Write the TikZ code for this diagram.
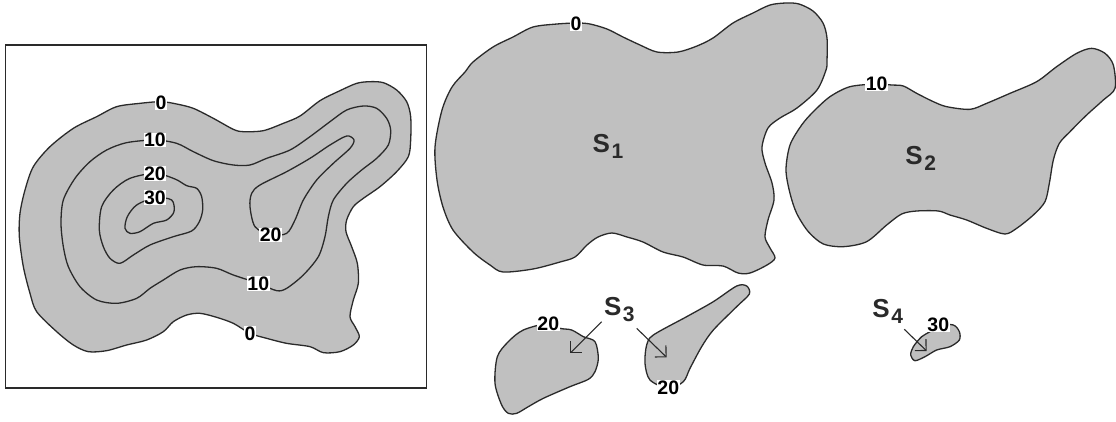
\documentclass[tikz,border=0pt]{standalone}
\usepackage{fontspec}
\setmainfont{Liberation Sans}
\usetikzlibrary{arrows.meta}
\tikzset{
  region/.style={fill=regiongray,draw=lineink,line width=1.3pt,line join=round},
  contour/.style={draw=lineink,line width=1.3pt,line join=round},
  lvl/.style={fill=white,inner sep=0.4pt,font=\fontsize{19.5}{19.5}\selectfont\bfseries,text=black},
  setname/.style={inner sep=0pt,font=\fontsize{26}{26}\selectfont\bfseries,text=lineink},
  pointer/.style={draw=lineink,line width=1.1pt,-{Straight Barb[length=8pt,width=16pt,line width=1.1pt]}},
  zoomed/.style={x=0.33333pt,y=-0.33333pt},
}
\definecolor{regiongray}{HTML}{C0C0C0}
\definecolor{lineink}{HTML}{2A2A2A}
\newcommand{\setlabel}[2]{S\kern1.5pt\raisebox{-6pt}{\fontsize{21}{21}\selectfont\bfseries #2}}
\begin{document}
\begin{tikzpicture}[x=1pt,y=-1pt]
\useasboundingbox (0,0) rectangle (1116,421);
\fill[white] (0,0) rectangle (1116,421);
\node[draw=lineink,line width=1.7pt,minimum width=421pt,minimum height=343pt,inner sep=0pt,anchor=north west] (panel) at (4.5,44) {};
% left panel: contour map
\begin{scope}[shift={(0pt,-30pt)},zoomed]
\draw[region] plot[smooth cycle,tension=0.5] coordinates {(483,215)(530,222)(580,235)(640,265)(700,298)(730,305)(790,302)(850,280)(900,258)(960,212)(1020,182)(1070,160)(1110,155)(1150,158)(1190,180)(1220,215)(1232,260)(1232,330)(1225,380)(1190,425)(1140,470)(1090,505)(1060,530)(1040,570)(1038,605)(1055,650)(1072,700)(1075,760)(1060,810)(1050,860)(1065,890)(1078,920)(1060,945)(1020,965)(970,968)(930,950)(860,940)(800,925)(750,910)(700,880)(650,862)(600,850)(560,855)(520,875)(490,905)(440,930)(380,945)(320,962)(265,965)(220,945)(170,905)(110,845)(90,790)(70,710)(58,620)(60,550)(75,480)(100,410)(150,350)(220,295)(290,260)(350,230)(420,220)};
\draw[contour] plot[smooth cycle,tension=0.5] coordinates {(465,330)(530,340)(580,365)(640,392)(700,405)(750,405)(800,385)(870,360)(930,320)(990,275)(1040,240)(1090,228)(1130,235)(1160,265)(1172,300)(1165,345)(1130,385)(1085,420)(1040,460)(1000,510)(985,560)(975,620)(955,680)(910,735)(860,775)(830,782)(775,760)(700,735)(650,715)(590,710)(540,720)(490,750)(450,775)(410,805)(350,820)(290,810)(240,770)(205,710)(190,650)(183,580)(190,510)(225,445)(270,395)(320,360)(380,338)};
\draw[contour] plot[smooth cycle,tension=0.5] coordinates {(465,430)(525,447)(560,467)(590,475)(605,500)(608,540)(598,575)(575,603)(520,620)(450,645)(400,675)(360,700)(330,685)(310,650)(298,600)(305,530)(340,480)(390,445)};
\draw[contour] plot[smooth cycle,tension=0.5] coordinates {(465,503)(515,510)(522,545)(500,570)(460,580)(420,605)(390,610)(375,595)(382,560)(410,525)};
\draw[contour] plot[smooth cycle,tension=0.5] coordinates {(812,615)(860,610)(885,570)(910,510)(950,450)(1000,400)(1050,355)(1062,330)(1040,318)(990,345)(930,385)(860,425)(780,465)(755,490)(750,530)(765,590)};
\node[lvl] (a0) at (483,217) {0};
\node[lvl] (a10) at (465,330) {10};
\node[lvl] (a20) at (465,430) {20};
\node[lvl] (a30) at (465,503) {30};
\node[lvl] (a20r) at (812,615) {20};
\node[lvl] (a10b) at (775,760) {10};
\node[lvl] (a0b) at (750,910) {0};
\end{scope}
% S1
\draw[region] plot[smooth cycle,tension=0.5] coordinates {(577,23)(590,24)(607,29)(623,37)(640,45)(657,52)(678,52)(697,46)(713,38)(733,23)(753,13)(770,5)(786,3)(799,4)(813,11)(823,23)(827,38)(827,61)(826,70)(817,90)(797,108)(780,118)(768,128)(762,147)(765,163)(772,183)(774,200)(768,220)(765,237)(770,248)(775,258)(767,265)(750,273)(738,273)(723,266)(703,265)(683,257)(663,252)(643,242)(627,237)(612,233)(598,237)(587,245)(575,257)(560,262)(533,269)(503,272)(490,265)(473,252)(453,230)(443,207)(437,180)(435,147)(442,110)(452,87)(465,72)(473,62)(493,47)(513,37)(533,27)(557,24)};
\node[lvl] (b0) at (576,24) {0};
\node[setname] (s1) at (608,146) {\setlabel{S}{1}};
% S2
\begin{scope}[shift={(770pt,-30pt)},zoomed]
\draw[region] plot[smooth cycle,tension=0.5] coordinates {(320,162)(365,165)(400,168)(440,190)(490,215)(530,230)(600,238)(650,220)(720,190)(800,155)(860,110)(920,70)(965,55)(1005,70)(1030,105)(1035,175)(1000,210)(950,255)(900,305)(868,340)(850,390)(838,460)(825,515)(790,555)(740,595)(705,612)(650,595)(590,570)(540,555)(505,543)(440,543)(395,552)(350,585)(290,635)(220,650)(160,642)(115,605)(80,550)(60,490)(48,420)(60,345)(95,285)(130,245)(180,200)(240,170)};
\node[lvl] (c10) at (320,160) {10};
\node[setname] (s2) at (452,385) {\setlabel{S}{2}};
\end{scope}
% S3
\begin{scope}[shift={(480pt,-270pt)},zoomed]
\draw[region] plot[smooth cycle,tension=0.5] coordinates {(205,160)(240,175)(275,180)(310,200)(345,215)(355,265)(345,305)(325,328)(270,350)(190,385)(145,410)(110,430)(85,430)(65,405)(45,340)(52,260)(85,215)(130,180)};
\draw[region] plot[smooth cycle,tension=0.5] coordinates {(565,355)(610,335)(630,295)(665,230)(700,180)(770,110)(808,72)(800,48)(770,48)(700,95)(620,140)(520,195)(500,225)(495,280)(510,330)};
\node[lvl] (d20) at (205,160) {20};
\node[lvl] (d20r) at (565,352) {20};
\node[setname] (s3) at (418,118) {\setlabel{S}{3}};
\coordinate (s3l) at (365,155);
\coordinate (s3lt) at (270,250);
\coordinate (s3r) at (470,175);
\coordinate (s3rt) at (560,262);
\draw[pointer] (s3l) -- (s3lt);
\draw[pointer] (s3r) -- (s3rt);
\end{scope}
% S4
\begin{scope}[shift={(850pt,-290pt)},zoomed]
\draw[region] plot[smooth cycle,tension=0.5] coordinates {(265,105)(310,105)(328,125)(328,150)(300,170)(260,180)(225,200)(195,212)(182,195)(190,170)(215,140)(240,125)};
\node[lvl] (e30) at (265,105) {30};
\node[setname] (s4) at (113,65) {\setlabel{S}{4}};
\coordinate (s4a) at (163,118);
\coordinate (s4t) at (230,183);
\draw[pointer] (s4a) -- (s4t);
\end{scope}
\end{tikzpicture}
\end{document}
